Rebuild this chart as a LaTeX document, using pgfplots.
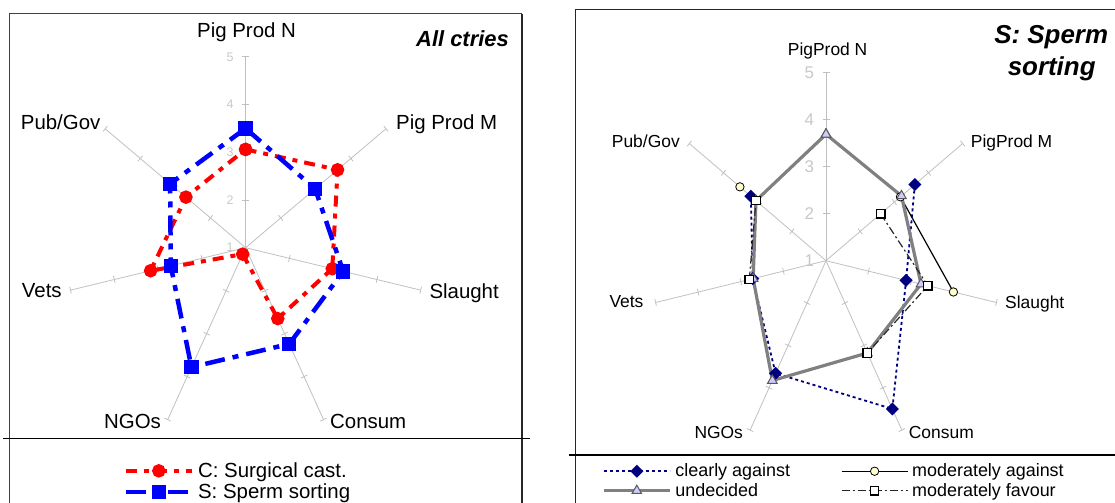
\documentclass[border=0pt]{standalone}
\usepackage{pgfplots}
\pgfplotsset{compat=1.18}
\usepackage{pgfplotstable}
\usepackage{fontspec}
\setmainfont{Liberation Sans}
\definecolor{spk}{RGB}{192,192,192}
\definecolor{tlab}{RGB}{200,200,200}
\definecolor{navyc}{RGB}{0,0,128}
\definecolor{unc}{RGB}{128,128,128}
\definecolor{trif}{RGB}{204,204,255}
\definecolor{cirf}{RGB}{255,255,204}
\definecolor{mfc}{RGB}{40,40,40}
\definecolor{redc}{RGB}{255,0,0}
\definecolor{bluec}{RGB}{0,0,255}

% angle (deg), value on the 1..5 scale; last row repeats the first to close the polygon
\pgfplotstableread{
a C S
90 3.06 3.50
38.571 3.62 2.98
-12.857 2.98 3.23
-64.286 2.65 3.24
-115.714 1.15 3.78
-167.143 3.17 2.71
-218.571 2.70 3.15
-270 3.06 3.50
}\leftdata

\pgfplotstableread{
a CA MA UN MF
90 nan nan 3.69 nan
38.571 3.60 3.18 3.21 2.60
-12.857 2.88 3.99 3.23 3.39
-64.286 4.50 nan 3.18 3.18
-115.714 3.66 nan 3.83 nan
-167.143 2.72 nan 2.71 2.80
-218.571 3.20 3.52 3.05 3.05
-270 nan nan 3.69 nan
}\rightdata

\pgfplotsset{
  legimg/.style={legend image code/.code={\draw[mark repeat=2,mark phase=2,##1] plot coordinates {(0bp,0bp) (33bp,0bp) (66bp,0bp)};}},
}

\begin{document}
\begin{tikzpicture}
\useasboundingbox (0bp,0bp) rectangle (1115bp,503bp);

% ---------- frames ----------
\begin{scope}[x=1bp,y=1bp]
\draw[black!75, line width=1bp] (9,-5) -- (9,489) -- (522,489);
\draw[black!85, line width=1.4bp] (522,489) -- (522,-5);
\draw[black, line width=1.3bp] (3,64.5) -- (530,64.5);
\draw[black!85, line width=1.2bp] (575.2,-5) -- (575.2,493.7) -- (1120,493.7);
\draw[black, line width=1.3bp] (568.8,48) -- (1120,48);
\end{scope}

% ---------- left spokes ----------
\begin{scope}[shift={(245.6bp,255.3bp)}, x=44.9bp, y=47.7bp]
\foreach \a in {90,38.571,-12.857,-64.286,-115.714,-167.143,-218.571}{
  \draw[spk, line width=0.8bp] (0,0) -- (\a:4);
  \foreach \r in {1,2,3,4}{
    \draw[spk, line width=0.8bp] (\a:\r) ++(\a+90:3.5bp) -- ++(\a-90:7bp);
  }
}
\foreach \r in {1,...,5}{
  \node[text=tlab, inner sep=0pt, font=\fontsize{12.5}{14}\selectfont] at ([xshift=-15.6bp]0,\r-1) {\r};
}
\end{scope}

% ---------- right spokes ----------
\begin{scope}[shift={(826bp,242.3bp)}, x=43.7bp, y=47bp]
\foreach \a in {90,38.571,-12.857,-64.286,-115.714,-167.143,-218.571}{
  \draw[spk, line width=0.8bp] (0,0) -- (\a:4);
  \foreach \r in {1,2,3,4}{
    \draw[spk, line width=0.8bp] (\a:\r) ++(\a+90:3.5bp) -- ++(\a-90:7bp);
  }
}
\foreach \r in {1,...,5}{
  \node[text=tlab, inner sep=0pt, font=\fontsize{17}{19}\selectfont] at ([xshift=-16.7bp]0,\r-1) {\r};
}
\end{scope}

% ---------- left chart ----------
\begin{axis}[at={(245.6bp,255.3bp)}, anchor=center, x=44.9bp, y=47.7bp,
  xmin=-5, xmax=5, ymin=-5, ymax=5, axis lines=none, clip=false,
  unbounded coords=jump, legimg,
  legend style={at={(0.2278,0.00985)}, anchor=west, draw=none, fill=none,
    inner sep=0pt, row sep=5bp, font=\fontsize{20.5}{23}\selectfont,
    nodes={inner xsep=4bp, inner ysep=0pt}},
  legend cell align=left]
\addplot[redc, line width=4bp, dash pattern=on 11bp off 7bp on 5bp off 7bp,
  mark=*, mark size=4.7bp, mark options={solid, fill=redc}]
  table[x expr={(\thisrow{C}-1)*cos(\thisrow{a})}, y expr={(\thisrow{C}-1)*sin(\thisrow{a})}] {\leftdata};
\addlegendentry{C: Surgical cast.}
\addplot[bluec, line width=4.5bp, dash pattern=on 20bp off 8bp on 6bp off 8bp,
  mark=square*, mark size=5bp, mark options={solid, fill=bluec}]
  table[x expr={(\thisrow{S}-1)*cos(\thisrow{a})}, y expr={(\thisrow{S}-1)*sin(\thisrow{a})}] {\leftdata};
\addlegendentry{S: Sperm sorting}
\end{axis}

% ---------- right chart ----------
\begin{axis}[at={(826bp,242.3bp)}, anchor=center, x=43.7bp, y=47bp,
  xmin=-5, xmax=5, ymin=-5, ymax=5, axis lines=none, clip=false,
  unbounded coords=jump, legimg, legend columns=2,
  legend style={at={(-0.0126,0.0313)}, anchor=west, draw=none, fill=none,
    inner sep=0pt, row sep=5bp, font=\fontsize{18}{20}\selectfont,
    nodes={inner xsep=4bp, inner ysep=0pt},
    /tikz/every even column/.append style={column sep=47bp}},
  legend cell align=left]
\addplot[navyc, line width=1.8bp, dash pattern=on 3bp off 3bp,
  mark=square*, mark size=3.7bp, mark options={solid, rotate=45, fill=navyc}]
  table[x expr={(\thisrow{CA}-1)*cos(\thisrow{a})}, y expr={(\thisrow{CA}-1)*sin(\thisrow{a})}] {\rightdata};
\addlegendentry{clearly against}
\addplot[black, line width=1.2bp,
  mark=*, mark size=4.2bp, mark options={solid, fill=cirf, draw=black, line width=0.8bp}]
  table[x expr={(\thisrow{MA}-1)*cos(\thisrow{a})}, y expr={(\thisrow{MA}-1)*sin(\thisrow{a})}] {\rightdata};
\addlegendentry{moderately against}
\addplot[unc, line width=3.2bp,
  mark=triangle*, mark size=5.5bp, mark options={solid, fill=trif, draw=black!65, line width=1bp}]
  table[x expr={(\thisrow{UN}-1)*cos(\thisrow{a})}, y expr={(\thisrow{UN}-1)*sin(\thisrow{a})}] {\rightdata};
\addlegendentry{undecided}
\addplot[mfc, line width=1.2bp, dash pattern=on 8bp off 3bp on 2bp off 3bp,
  mark=square*, mark size=4.2bp, mark options={solid, fill=white, draw=black, line width=1.3bp}]
  table[x expr={(\thisrow{MF}-1)*cos(\thisrow{a})}, y expr={(\thisrow{MF}-1)*sin(\thisrow{a})}] {\rightdata};
\addlegendentry{moderately favour}
\end{axis}

\begin{scope}[x=1bp,y=1bp]
% ---------- category labels, left ----------
\begin{scope}[every node/.style={inner sep=0pt, anchor=base west, font=\fontsize{20.5}{23}\selectfont}]
\node at (197,465.5) {Pig Prod N};
\node at (396,373.7) {Pig Prod M};
\node at (429.3,204.7) {Slaught};
\node at (330,74.7) {Consum};
\node at (104,74.7) {NGOs};
\node at (21.7,205.3) {Vets};
\node at (20.7,373.7) {Pub/Gov};
\end{scope}
\node[inner sep=0pt, anchor=base east, font=\fontsize{22}{26}\selectfont\bfseries\itshape] at (509,456.3) {All ctries};

% ---------- category labels, right ----------
\begin{scope}[every node/.style={inner sep=0pt, anchor=base west, font=\fontsize{17.5}{20}\selectfont}]
\node at (787.7,447) {PigProd N};
\node at (970.7,355.3) {PigProd M};
\node at (1005,194.7) {Slaught};
\node at (908.7,64.7) {Consum};
\node at (694.3,64.7) {NGOs};
\node at (609.3,195.3) {Vets};
\node at (611.7,355.7) {Pub/Gov};
\end{scope}
\node[inner sep=0pt, anchor=base, font=\fontsize{26}{30}\selectfont\bfseries\itshape] at (1051.2,459.7) {S: Sperm};
\node[inner sep=0pt, anchor=base, font=\fontsize{26}{30}\selectfont\bfseries\itshape] at (1051.7,427) {sorting};
\end{scope}
\end{tikzpicture}
\end{document}
